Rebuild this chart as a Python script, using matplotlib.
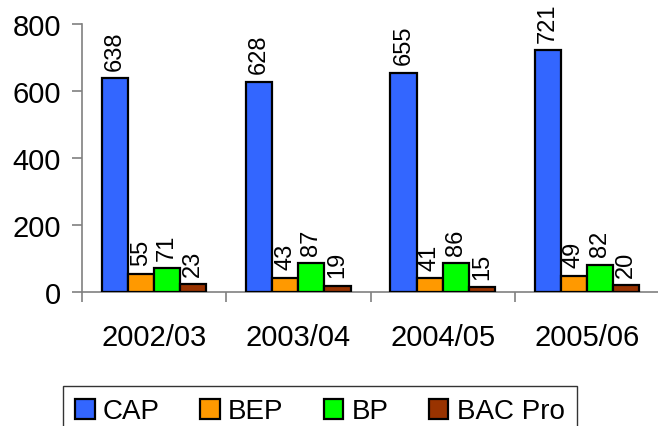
import numpy as np
from matplotlib import pyplot as plt
from matplotlib.ticker import FixedLocator

years = ['2002/03', '2003/04', '2004/05', '2005/06']
series_names = ['CAP', 'BEP', 'BP', 'BAC Pro']
cap = [638, 628, 655, 721]
bep = [55, 43, 41, 49]
bp = [71, 87, 86, 82]
bac_pro = [23, 19, 15, 20]
colors = ['#3366FF', '#FF9900', '#00FF00', '#993300']


def main():
    plt.rcParams['font.family'] = ['Liberation Sans', 'DejaVu Sans']

    fig = plt.figure(figsize=(6.58, 4.27), dpi=100)
    ax = fig.add_axes([82/658, 1 - 293/427, 577/658, (293 - 25)/427])

    x = np.arange(len(years))
    width = 0.181
    all_values = [cap, bep, bp, bac_pro]
    for i, (name, vals) in enumerate(zip(series_names, all_values)):
        pos = x + (i - 1.5)*width
        bars = ax.bar(pos, vals, width, color=colors[i], edgecolor='black',
                      linewidth=1.6, label=name, zorder=3)
        for b, v in zip(bars, vals):
            ax.annotate(str(v), (b.get_x() + b.get_width()/2, v),
                        xytext=(0, 6), textcoords='offset points',
                        rotation=90, ha='center', va='bottom', fontsize=17)

    ax.set_xlim(-0.5, 3.5)
    ax.set_ylim(0, 800)
    ax.set_yticks([0, 200, 400, 600, 800])
    ax.set_xticks(x)
    ax.set_xticklabels(years)
    ax.xaxis.set_minor_locator(FixedLocator([-0.5, 0.5, 1.5, 2.5, 3.5]))

    for side in ['top', 'right']:
        ax.spines[side].set_visible(False)
    for side in ['left', 'bottom']:
        ax.spines[side].set_color('#808080')
        ax.spines[side].set_linewidth(1.2)

    ax.tick_params(axis='y', direction='out', length=7, width=1.2, color='#808080',
                   labelsize=21, pad=8)
    ax.tick_params(axis='x', which='major', length=0, labelsize=21, pad=22)
    ax.tick_params(axis='x', which='minor', direction='out', length=7, width=1.2,
                   color='#808080')

    leg = fig.legend(loc='upper center', bbox_to_anchor=(320/658, 1 - 387/427),
                     ncol=4, fontsize=20, frameon=True, fancybox=False,
                     edgecolor='black', handlelength=0.7, handleheight=0.7,
                     handletextpad=0.3, columnspacing=1.45, borderpad=0.45,
                     borderaxespad=0)
    leg.get_frame().set_linewidth(1.0)

    fig.savefig('out.png', dpi=100)


if __name__ == '__main__':
    main()
